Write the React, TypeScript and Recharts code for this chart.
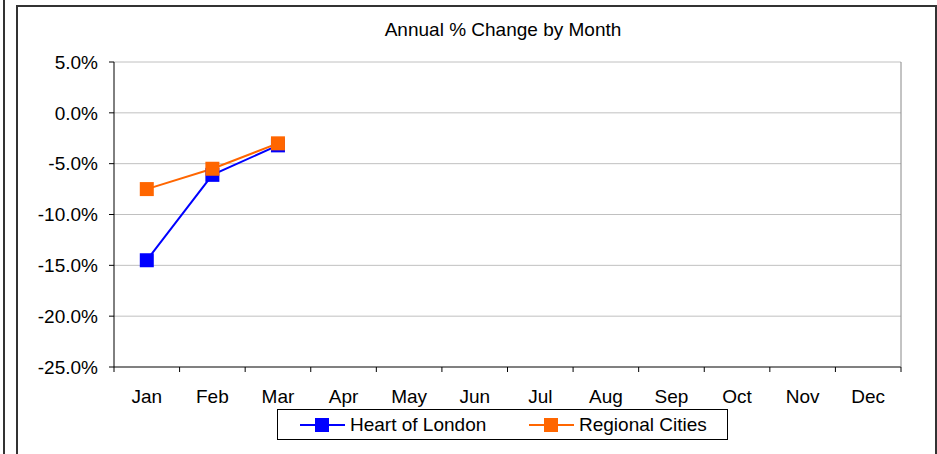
import React from "react";
import { LineChart, Line, XAxis, YAxis, CartesianGrid } from "recharts";

const months = ["Jan", "Feb", "Mar", "Apr", "May", "Jun", "Jul", "Aug", "Sep", "Oct", "Nov", "Dec"];
const heartOfLondon: (number | null)[] = [-14.5, -6.1, -3.2, null, null, null, null, null, null, null, null, null];
const regionalCities: (number | null)[] = [-7.5, -5.5, -3.0, null, null, null, null, null, null, null, null, null];
const yTicks = [-25, -20, -15, -10, -5, 0, 5];

const series = [
  { key: "hol", name: "Heart of London", color: "#0000FF", values: heartOfLondon },
  { key: "rc", name: "Regional Cities", color: "#FF6600", values: regionalCities },
];

const data = months.map((m, i) => ({ month: m, hol: heartOfLondon[i], rc: regionalCities[i] }));

const W = 937;
const H = 454;
const PLOT_LEFT = 114;
const PLOT_RIGHT = 901;
const BAND = (PLOT_RIGHT - PLOT_LEFT) / months.length;
const FONT = "'Liberation Sans', Arial, sans-serif";

const SquareDot = (color: string) => (props: any) => {
  const { cx, cy, value } = props;
  if (value == null || cx == null || cy == null) return <g key={props.key} />;
  return <rect key={props.key} x={cx - 7} y={cy - 7} width={14} height={14} fill={color} />;
};

const MonthTick = (props: any) => {
  const { x, y, payload, index } = props;
  return (
    <g>
      <line x1={x - BAND / 2} x2={x - BAND / 2} y1={y} y2={y + 5} stroke="#000" />
      {index === months.length - 1 && <line x1={x + BAND / 2} x2={x + BAND / 2} y1={y} y2={y + 5} stroke="#000" />}
      <text x={x} y={y + 36} textAnchor="middle" fill="#000" fontSize={19} fontFamily={FONT}>
        {payload.value}
      </text>
    </g>
  );
};

export default function App() {
  return (
    <div style={{ position: "absolute", left: 0, top: 0, width: W, height: H, overflow: "hidden", background: "#fff", fontFamily: FONT }}>
      <div style={{ position: "absolute", left: 3, top: 0, width: 2, height: H, background: "#333" }} />
      <div style={{ position: "absolute", left: 16, top: 5, width: 917, height: 470, border: "2px solid #333" }} />
      <div style={{ position: "absolute", left: 0, width: 1006, top: 19, textAlign: "center", fontSize: 19, color: "#000" }}>
        Annual % Change by Month
      </div>
      <div style={{ position: "absolute", left: 0, top: 0 }}>
        <LineChart width={W} height={H} data={data} margin={{ top: 62, right: W - PLOT_RIGHT - 1, left: PLOT_LEFT - 60, bottom: 47 }}>
          <CartesianGrid vertical={false} stroke="#c0c0c0" />
          <XAxis
            dataKey="month"
            height={40}
            tickSize={0}
            tickMargin={0}
            tick={MonthTick}
            interval={0}
            padding={{ left: BAND / 2, right: BAND / 2 }}
            axisLine={{ stroke: "#222" }}
          />
          <YAxis
            width={60}
            domain={[-25, 5]}
            ticks={yTicks}
            interval={0}
            tickSize={5}
            tickMargin={11}
            tickFormatter={(v: number) => v.toFixed(1) + "%"}
            tick={{ fill: "#000", fontSize: 19, fontFamily: FONT }}
            tickLine={{ stroke: "#000" }}
            axisLine={{ stroke: "#000" }}
          />
          <YAxis yAxisId="r" orientation="right" width={1} domain={[-25, 5]} tick={false} tickLine={false} axisLine={{ stroke: "#888" }} />
          {series.map((s) => (
            <Line
              key={s.key}
              dataKey={s.key}
              name={s.name}
              stroke={s.color}
              strokeWidth={2}
              dot={SquareDot(s.color)}
              activeDot={false}
              isAnimationActive={false}
              connectNulls={false}
            />
          ))}
        </LineChart>
      </div>
      <div style={{ position: "absolute", left: 277, top: 409, width: 449, height: 29, border: "1px solid #000", background: "#fff" }}>
        {series.map((s, i) => (
          <div key={s.key} style={{ position: "absolute", left: i === 0 ? 22 : 251, top: 0, height: 29, display: "flex", alignItems: "center" }}>
            <svg width={45} height={16} style={{ marginRight: 5 }}>
              <line x1={0} x2={45} y1={8} y2={8} stroke={s.color} strokeWidth={2} />
              <rect x={15} y={1} width={14} height={14} fill={s.color} />
            </svg>
            <span style={{ fontSize: 19, color: "#000", whiteSpace: "nowrap" }}>{s.name}</span>
          </div>
        ))}
      </div>
    </div>
  );
}
